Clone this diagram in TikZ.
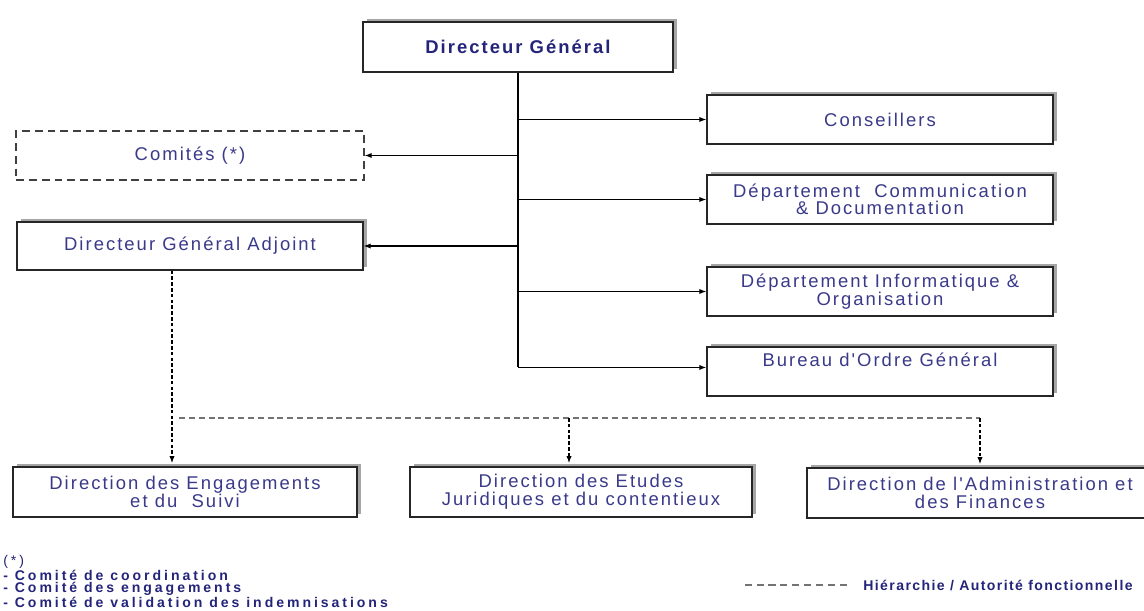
\documentclass[tikz,border=0pt]{standalone}
\usepackage{fontspec}
\setmainfont{Liberation Sans}
\newfontfamily\boxfont[LetterSpace=11]{Liberation Sans}
\newfontfamily\notefont[LetterSpace=21]{Liberation Sans}
\newfontfamily\keyfont[LetterSpace=10]{Liberation Sans}
\usetikzlibrary{arrows.meta,shadows}
\definecolor{navy}{RGB}{58,58,138}
\definecolor{navydark}{RGB}{36,36,122}
\tikzset{
  boxbase/.style={draw=black!85, line width=0.75pt, fill=white, minimum width=6.92cm, minimum height=0.98cm,
    align=center, text=navy, font=\boxfont\fontsize{10.5}{10}\selectfont},
  unit/.style={boxbase, drop shadow={shadow xshift=2.4pt, shadow yshift=1.8pt, fill=black!35, opacity=1}},
  comite/.style={boxbase, draw=black!75, dash pattern=on 4.5pt off 2.8pt},
  link/.style={line width=0.7pt},
  hier/.style={line width=0.7pt, dash pattern=on 2pt off 1.3pt},
  bus/.style={line width=0.7pt, black!55, dash pattern=on 3.4pt off 2.2pt}
}
\begin{document}
\begin{tikzpicture}[x=0.02cm, y=-0.02cm, >={Latex[length=4pt,width=3pt]}]
\clip (0,0) rectangle (1144,611);
\node[unit, minimum width=6.2cm, minimum height=1cm, text=navydark, font=\boxfont\bfseries\fontsize{10.5}{10}\selectfont] (dg) at (518,47) {Directeur Général};
\foreach \n/\y/\t in {cons/119.5/{Conseillers}, comm/199.5/{Département\ \ Communication\\\& Documentation}, info/291.5/{Département Informatique \&\\Organisation}, bur/371.5/{Bureau d'Ordre Général\\\strut}}
  \node[unit] (\n) at (880,\y) {\t};
\node[comite, minimum width=6.96cm] (com) at (190,155.5) {Comités (*)};
\node[unit, minimum width=6.92cm, minimum height=0.96cm] (dga) at (190,246) {Directeur Général Adjoint};
\node[unit, minimum width=6.88cm, minimum height=1cm] (eng) at (185,492) {Direction des Engagements\\et du\ \ Suivi};
\node[unit, minimum width=6.84cm, minimum height=1cm] (jur) at (581,492) {Direction des Etudes\\Juridiques et du contentieux};
\node[unit, minimum width=6.92cm, minimum height=1cm] (adm) at (980,493) {Direction de l'Administration et\\des Finances};
\coordinate (tap) at ([yshift=2.3pt]bur.west);
\draw[link] (dg.south) -- (dg.south |- tap);
\foreach \n in {cons,comm,info} \draw[link,->] (dg.south |- \n.west) -- (\n.west);
\draw[link,->] (dg.south |- tap) -- (tap);
\foreach \n in {com,dga} \draw[link,->] (dg.south |- \n.east) -- (\n.east);
\coordinate (bus) at (172,418);
\coordinate (jtap) at (569,418);
\draw[hier,->,shorten >=1.8pt] (dga.south -| bus) -- (bus |- eng.north);
\draw[bus] ([xshift=4pt]bus) -- (bus -| adm.north);
\draw[hier,->,shorten >=1.8pt] (jtap) -- (jtap |- jur.north);
\draw[hier,->,shorten >=1.8pt] (bus -| adm.north) -- (adm.north);
\node[anchor=north west, inner sep=0, align=left, text=navydark, font=\notefont\bfseries\fontsize{8}{6.6}\selectfont] (notes) at (3,555)
  {{\mdseries(*)}\\- Comité de coordination\\- Comité des engagements\\- Comité de validation des indemnisations};
\node[anchor=west, inner sep=0, text=navydark, font=\keyfont\bfseries\fontsize{8}{8}\selectfont] (key) at (863,585) {Hiérarchie / Autorité fonctionnelle};
\draw[bus, dash pattern=on 4pt off 2.8pt] ([xshift=-9pt]key.west) -- ++(-102,0);
\end{tikzpicture}
\end{document}
